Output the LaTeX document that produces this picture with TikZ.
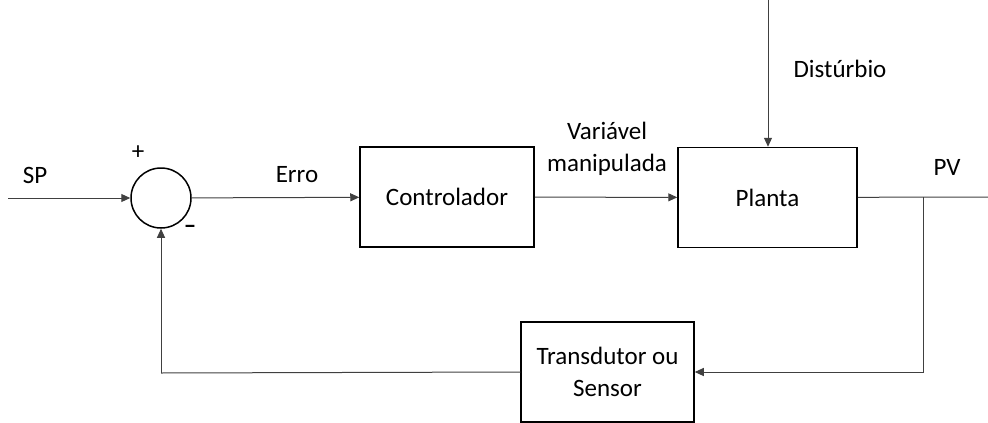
\documentclass[tikz,border=0pt]{standalone}
\usepackage{fontspec}
\setmainfont{Carlito}
\usetikzlibrary{arrows.meta}
\def\seta{\draw[line width=1pt,draw=black!75,-{Triangle[length=9pt,width=8pt]}]}
\def\linha{\draw[line width=1pt,draw=black!75]}
\tikzset{bloco/.style={draw,line width=1.5pt,minimum height=100pt,align=center},
         rotulo/.style={align=center}}

\begin{document}
\begin{tikzpicture}[x=1pt,y=-1pt,font=\fontsize{25}{32}\selectfont]
                \useasboundingbox (0,0) rectangle (988,423);
                \node[draw,circle,line width=1.5pt,minimum size=60pt,inner sep=0pt] (soma) at (161,198) {};
                \node[bloco,minimum width=174pt] (ctrl) at (447,197) {Controlador};
                \node[bloco,minimum width=179pt] (planta) at (767.5,197.5) {Planta};
                \node[bloco,minimum width=173pt] (sensor) at (607.5,372) {Transdutor ou\\Sensor};
                \coordinate (sp) at (8,198);
                \coordinate (dist) at (768,0);
                \coordinate (saida) at (988,197);
                \coordinate (ramo) at (923,197);
                \coordinate (volta) at (161,373);
                \seta (sp) -- (soma);
                \seta (soma) -- (ctrl);
                \seta (ctrl) -- (planta);
                \seta (dist) -- (dist |- planta.north);
                \linha (planta) -- (saida);
                \seta (ramo) |- (sensor.east);
                \linha (sensor.west) -- (volta);
                \seta (volta) -- (soma);
                \node (lsp) at (35,175) {SP};
                \node (mais) at (138,153) {+};
                \node (menos) at (190,229) {\textbf{–}};
                \node (lerro) at (297,175) {Erro};
                \node[rotulo] (lmv) at (607,149) {Variável\\manipulada};
                \node (ldist) at (840,69) {Distúrbio};
                \node (lpv) at (947,167) {PV};
            \end{tikzpicture}
\end{document}
